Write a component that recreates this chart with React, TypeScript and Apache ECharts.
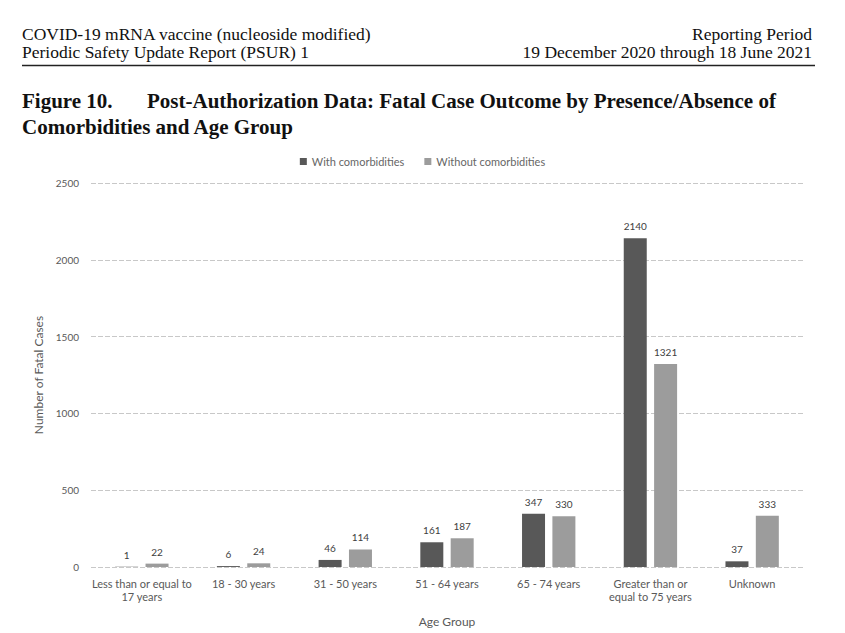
import React, { useEffect, useRef } from "react";
import * as echarts from "echarts";

const categories = [
  "Less than or equal to\n17 years",
  "18 - 30 years",
  "31 - 50 years",
  "51 - 64 years",
  "65 - 74 years",
  "Greater than or\nequal to 75 years",
  "Unknown",
];
const withComorbidities = [1, 6, 46, 161, 347, 2140, 37];
const withoutComorbidities = [22, 24, 114, 187, 330, 1321, 333];
const seriesNames = ["With comorbidities", "Without comorbidities"];
const headerLeft = ["COVID-19 mRNA vaccine (nucleoside modified)", "Periodic Safety Update Report (PSUR) 1"];
const headerRight = ["Reporting Period", "19 December 2020 through 18 June 2021"];
const figureLabel = "Figure 10.";
const titleLines = [
  "Post-Authorization Data: Fatal Case Outcome by Presence/Absence of",
  "Comorbidities and Age Group",
];

const SANS = "Lato, 'Open Sans', sans-serif";
const SERIF = "'Liberation Serif', 'DejaVu Serif', serif";

export default function App() {
  const ref = useRef<HTMLDivElement>(null);
  useEffect(() => {
    if (!ref.current) return;
    const chart = echarts.init(ref.current, null, { renderer: "svg" });
    const headerStyle = { fontFamily: SERIF, fontSize: 16, fill: "#111", verticalAlign: "middle" };
    const titleStyle = { fontFamily: SERIF, fontSize: 21, fontWeight: "bold", fill: "#111", verticalAlign: "middle" };
    const hs = 1.094;
    const labelStyle = { show: true, position: "top", fontFamily: SANS, fontSize: 10, color: "#404040", distance: 7 };
    chart.setOption({
      animation: false,
      backgroundColor: "#fff",
      graphic: [
        { type: "text", x: 22, y: 35, scaleX: hs, style: { ...headerStyle, align: "left", text: headerLeft[0] } },
        { type: "text", x: 22, y: 53, scaleX: hs, style: { ...headerStyle, align: "left", text: headerLeft[1] } },
        { type: "text", x: 812, y: 35, scaleX: hs, style: { ...headerStyle, align: "right", text: headerRight[0] } },
        { type: "text", x: 812, y: 53, scaleX: hs, style: { ...headerStyle, align: "right", text: headerRight[1] } },
        { type: "line", shape: { x1: 22, y1: 65.5, x2: 815, y2: 65.5 }, style: { stroke: "#222", lineWidth: 1.5 } },
        { type: "text", x: 22, y: 101, style: { ...titleStyle, text: figureLabel } },
        { type: "text", x: 147, y: 101, style: { ...titleStyle, text: titleLines[0] } },
        { type: "text", x: 22, y: 127, style: { ...titleStyle, text: titleLines[1] } },
      ],
      legend: {
        top: 151,
        left: "center",
        itemWidth: 7,
        itemHeight: 7,
        itemGap: 20,
        icon: "rect",
        textStyle: { fontFamily: SANS, fontSize: 11, color: "#666" },
        data: seriesNames,
      },
      grid: { left: 91, right: 42, top: 183, bottom: 66, containLabel: false },
      xAxis: {
        type: "category",
        data: categories,
        name: "Age Group",
        nameLocation: "middle",
        nameGap: 48,
        nameTextStyle: { fontFamily: SANS, fontSize: 12, color: "#595959" },
        axisLine: { show: false },
        axisTick: { show: false },
        axisLabel: { fontFamily: SANS, fontSize: 11, color: "#595959", interval: 0, lineHeight: 13, margin: 10 },
      },
      yAxis: {
        type: "value",
        min: 0,
        max: 2500,
        interval: 500,
        name: "Number of Fatal Cases",
        nameLocation: "middle",
        nameGap: 40,
        nameTextStyle: { fontFamily: SANS, fontSize: 12, color: "#595959" },
        axisLine: { show: false },
        axisTick: { show: false },
        axisLabel: {
          fontFamily: SANS,
          fontSize: 10,
          color: "#595959",
          margin: 12,
          formatter: (v: number) => String(v),
        },
        splitLine: { lineStyle: { color: "#c8c8c8", type: [5, 2], width: 1 } },
      },
      series: [
        {
          name: seriesNames[0],
          type: "bar",
          data: withComorbidities,
          barWidth: 23,
          barGap: "32%",
          itemStyle: { color: "#585858" },
          label: labelStyle,
        },
        {
          name: seriesNames[1],
          type: "bar",
          data: withoutComorbidities,
          barWidth: 23,
          barGap: "32%",
          itemStyle: { color: "#9c9c9c" },
          label: labelStyle,
        },
      ],
    });
    return () => chart.dispose();
  }, []);
  return (
    <div
      ref={ref}
      style={{ position: "fixed", left: 0, top: 0, width: 845, height: 633 }}
    />
  );
}
